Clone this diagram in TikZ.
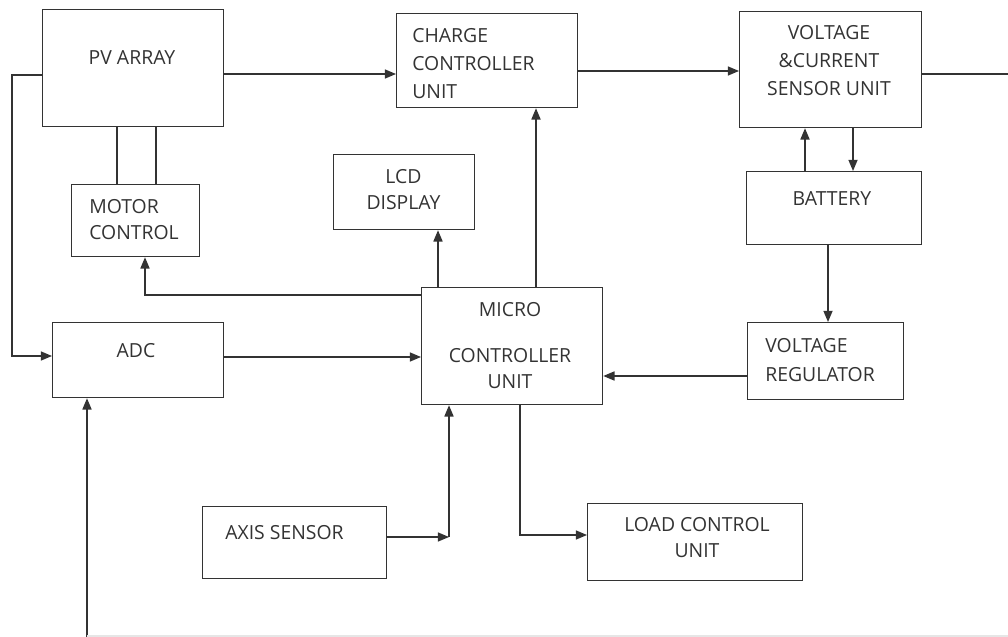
\documentclass[tikz,border=0pt]{standalone}
\usepackage{fontspec}
\setmainfont{Open Sans}
\usepackage{tikz}
\usetikzlibrary{arrows.meta, positioning, calc}
\definecolor{lnblack}{HTML}{333333}
\definecolor{faintgray}{HTML}{E6E6E6}

\begin{document}
\begin{tikzpicture}[
    x=0.025cm, y=-0.025cm,
    blk/.style 2 args={rectangle, draw=lnblack, line width=0.9pt, inner sep=0pt, anchor=north west,
                       minimum width=#1*0.025cm, minimum height=#2*0.025cm},
    txt/.style={font=\fontsize{13.8}{20}\selectfont, text=lnblack, inner sep=0pt, align=center},
    wire/.style={draw=lnblack, line width=0.9pt},
    arr/.style={wire, -{Triangle[length=8pt, width=6.5pt]}}
]
\useasboundingbox (0,0) rectangle (1008,637);

% blocks
\node[blk={181}{117}] (pv)  at (42,9)    {};
\node[blk={181}{94}]  (cc)  at (396,13)  {};
\node[blk={182}{116}] (vcs) at (739,11)  {};
\node[blk={128}{72}]  (mc)  at (71,184)  {};
\node[blk={141}{75}]  (lcd) at (333,154) {};
\node[blk={175}{73}]  (bat) at (746,171) {};
\node[blk={171}{75}]  (adc) at (52,322)  {};
\node[blk={181}{117}] (mcu) at (421,287) {};
\node[blk={156}{77}]  (vr)  at (747,322) {};
\node[blk={184}{72}]  (axs) at (202,506) {};
\node[blk={215}{77}]  (lcu) at (587,503) {};

% labels
\node[txt]             (pvtxt)  at (132,58)    {PV ARRAY};
\node[txt, anchor=west, align=left] (cctxt) at (412,63.5) {CHARGE\\CONTROLLER\\UNIT};
\node[txt]             (vcstxt) at (829,60.5)  {VOLTAGE\\\&CURRENT\\SENSOR UNIT};
\node[txt]             (battxt) at (832,199)   {BATTERY};
\node[txt, anchor=west, align=left] (vrtxt) at (765,360) {VOLTAGE\\REGULATOR};
\node[txt]             (mcutxt) at (510,345.5) {MICRO\\[13pt]CONTROLLER\\[-1.5pt]UNIT};
\node[txt]             (lcdtxt) at (403.5,190) {LCD\\[-1.5pt]DISPLAY};
\node[txt, anchor=west, align=left] (mctxt) at (89,219.5) {MOTOR\\[-1.5pt]CONTROL};
\node[txt]             (adctxt) at (136,351)   {ADC};
\node[txt, anchor=west] (axtxt) at (225,533)   {AXIS SENSOR};
\node[txt]             (lcutxt) at (697,538)   {LOAD CONTROL\\[-1.5pt]UNIT};

% connectors
\draw[arr] (pv.west |- 0,75) -| (12,356) -- (adc.west |- 0,356);
\draw[arr] (pv.east |- 0,74) -- (cc.west |- 0,74);
\draw[arr] (cc.east |- 0,71) -- (vcs.west |- 0,71);
\draw[wire] (vcs.east |- 0,74) -- (1008,74);
\draw[arr] (805,0 |- bat.north) -- (805,0 |- vcs.south);
\draw[arr] (853,0 |- vcs.south) -- (853,0 |- bat.north);
\draw[arr] (828,0 |- bat.south) -- (828,0 |- vr.north);
\draw[arr] (vr.west |- 0,376) -- (mcu.east |- 0,376);
\draw[arr] (adc.east |- 0,357) -- (mcu.west |- 0,357);
\draw[arr] (536,0 |- mcu.north) -- (536,0 |- cc.south);
\draw[arr] (438,0 |- mcu.north) -- (438,0 |- lcd.south);
\draw[arr] (mcu.west |- 0,295) -| (145,0 |- mc.south);
\draw[wire] (117,0 |- pv.south) -- (117,0 |- mc.north);
\draw[wire] (156,0 |- pv.south) -- (156,0 |- mc.north);
\coordinate (axbend) at (449,537);
\draw[arr] (axs.east |- axbend) -- (axbend);
\draw[arr] (axbend) -- (axbend |- mcu.south);
\draw[arr] (520,0 |- mcu.south) |- (lcu.west |- 0,535);
\coordinate (adcin) at (87,637);
\draw[arr] (adcin) -- (adcin |- adc.south);
\draw[draw=faintgray, line width=0.8pt] (87,636) -- (1008,636);
\end{tikzpicture}
\end{document}
